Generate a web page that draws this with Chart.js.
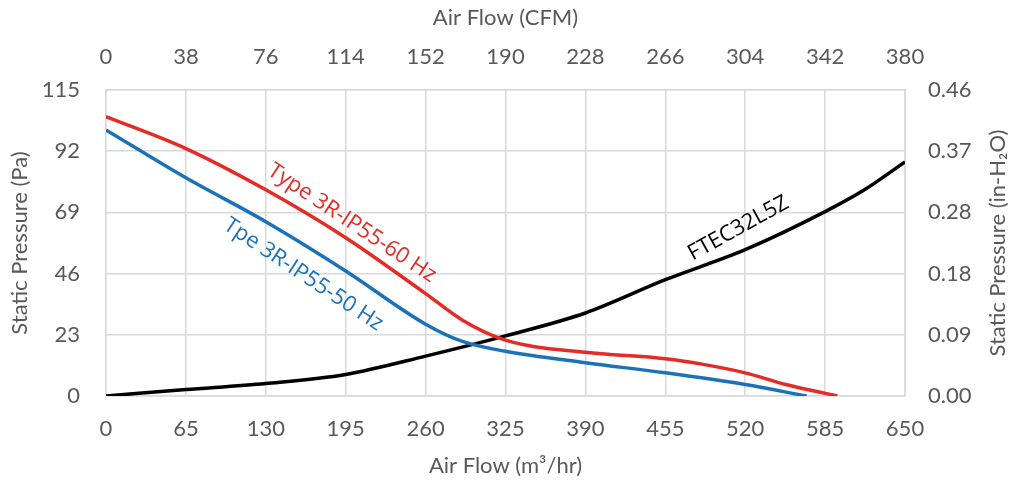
<!DOCTYPE html>
<html>
<head>
<meta charset="utf-8">
<script src="https://cdn.jsdelivr.net/npm/chart.js@4"></script>
<style>
  html, body { margin: 0; padding: 0; background: #fff; }
  #wrap { width: 1017px; height: 483px; }
</style>
</head>
<body>
<div id="wrap"><canvas id="grafica"></canvas></div>
<script>
// caudal en m3/hr y presion en Pa
const flujo60 = [0, 65, 130, 195, 260, 290, 325, 390, 455, 487, 520, 553, 595];
const presion60 = [105, 93, 77.5, 59.5, 38.5, 28.5, 21, 16.4, 14, 11.8, 8.7, 4.3, 0];

const flujo50 = [0, 65, 130, 195, 260, 290, 325, 390, 455, 520, 570];
const presion50 = [100, 82, 65.5, 47, 27, 20.5, 16.8, 12.5, 8.7, 4.3, 0];

const flujoSistema = [0, 65, 130, 195, 260, 325, 390, 455, 520, 585, 617, 650];
const presionSistema = [0, 2.4, 4.7, 8.1, 15, 22.6, 31.2, 43.7, 55, 69.3, 77.5, 88];

// etiquetas de los ejes
const ticksM3 = [0, 65, 130, 195, 260, 325, 390, 455, 520, 585, 650];
const ticksCFM = [0, 38, 76, 114, 152, 190, 228, 266, 304, 342, 380];
const ticksPa = [0, 23, 46, 69, 92, 115];
const ticksInH2O = [0, 0.092, 0.184, 0.276, 0.368, 0.46];

const nombres = ['Type 3R-IP55-60 Hz', 'Tpe 3R-IP55-50 Hz', 'FTEC32L5Z'];
const tituloDerecho = 'Static Pressure (in-H₂O)';

const gris = '#595959';
const rejilla = '#d9d9d9';
const fuente = 'Lato, "Open Sans", sans-serif';

const puntos = (xs, ys) => xs.map((x, i) => ({ x: x, y: ys[i] }));

// etiquetas giradas sobre las curvas (en coordenadas de datos)
const etiquetasCurvas = {
  id: 'etiquetasCurvas',
  afterDatasetsDraw(chart) {
    const { ctx, scales } = chart;
    const lista = [
      { texto: nombres[0], x: 200, y: 65, ang: 33.5, color: '#e52b26' },
      { texto: nombres[1], x: 160.5, y: 45.6, ang: 33.5, color: '#1c72b8' },
      { texto: nombres[2], x: 514.5, y: 63, ang: -29, color: '#000000' }
    ];
    ctx.save();
    ctx.font = '22px "Open Sans", sans-serif';
    ctx.textAlign = 'center';
    ctx.textBaseline = 'middle';
    lista.forEach(e => {
      ctx.save();
      ctx.translate(scales.x.getPixelForValue(e.x), scales.y.getPixelForValue(e.y));
      ctx.rotate(e.ang * Math.PI / 180);
      ctx.fillStyle = e.color;
      ctx.fillText(e.texto, 0, 0);
      ctx.restore();
    });

    // titulo del eje derecho, leido de abajo hacia arriba
    const y2 = scales.y2;
    ctx.save();
    ctx.translate(998, (y2.top + y2.bottom) / 2);
    ctx.rotate(-Math.PI / 2);
    ctx.font = '22px ' + fuente;
    ctx.fillStyle = gris;
    ctx.fillText(tituloDerecho, 0, 0);
    ctx.restore();
    ctx.restore();
  }
};

const fijarTicks = valores => scale => {
  scale.ticks = valores.map(v => ({ value: v }));
};

const ctx = document.getElementById('grafica');

new Chart(ctx, {
  type: 'scatter',
  data: {
    datasets: [
      {
        label: nombres[0],
        data: puntos(flujo60, presion60),
        borderColor: '#e52b26',
        backgroundColor: '#e52b26',
        borderWidth: 3.5,
        showLine: true,
        pointRadius: 0,
        cubicInterpolationMode: 'monotone'
      },
      {
        label: nombres[1],
        data: puntos(flujo50, presion50),
        borderColor: '#1c72b8',
        backgroundColor: '#1c72b8',
        borderWidth: 3.5,
        showLine: true,
        pointRadius: 0,
        cubicInterpolationMode: 'monotone'
      },
      {
        label: nombres[2],
        data: puntos(flujoSistema, presionSistema),
        borderColor: '#000000',
        backgroundColor: '#000000',
        borderWidth: 3.5,
        showLine: true,
        pointRadius: 0,
        cubicInterpolationMode: 'monotone'
      }
    ]
  },
  options: {
    responsive: true,
    maintainAspectRatio: false,
    animation: false,
    layout: { padding: 0 },
    plugins: {
      legend: { display: false },
      tooltip: { enabled: false }
    },
    scales: {
      x: {
        type: 'linear',
        position: 'bottom',
        min: 0,
        max: 650,
        afterBuildTicks: fijarTicks(ticksM3),
        afterFit: s => { s.height = 87; },
        grid: { color: rejilla, lineWidth: 1.5, drawTicks: false },
        border: { color: rejilla, width: 1.5 },
        ticks: { color: gris, font: { family: fuente, size: 22 }, padding: 20, maxRotation: 0 },
        title: { display: true, text: 'Air Flow (m³/hr)', color: gris, font: { family: fuente, size: 22 }, padding: { top: 0, bottom: 4 } }
      },
      x2: {
        type: 'linear',
        position: 'top',
        min: 0,
        max: 380,
        afterBuildTicks: fijarTicks(ticksCFM),
        afterFit: s => { s.height = 90; },
        grid: { display: false, drawTicks: false },
        border: { color: rejilla, width: 1.5 },
        ticks: { color: gris, font: { family: fuente, size: 22 }, padding: 20, maxRotation: 0 },
        title: { display: true, text: 'Air Flow (CFM)', color: gris, font: { family: fuente, size: 22 }, padding: { top: 5, bottom: 0 } }
      },
      y: {
        type: 'linear',
        position: 'left',
        min: 0,
        max: 115,
        afterBuildTicks: fijarTicks(ticksPa),
        afterFit: s => { s.width = 106; },
        grid: { color: rejilla, lineWidth: 1.5, drawTicks: false },
        border: { color: rejilla, width: 1.5 },
        ticks: { color: gris, font: { family: fuente, size: 22 }, padding: 26 },
        title: { display: true, text: 'Static Pressure (Pa)', color: gris, font: { family: fuente, size: 22 }, padding: { top: 7, bottom: 0 } }
      },
      y2: {
        type: 'linear',
        position: 'right',
        min: 0,
        max: 0.46,
        afterBuildTicks: fijarTicks(ticksInH2O),
        afterFit: s => { s.width = 112; },
        grid: { display: false, drawTicks: false },
        border: { color: rejilla, width: 1.5 },
        ticks: {
          color: gris,
          font: { family: fuente, size: 22 },
          padding: 23,
          callback: v => v.toFixed(2)
        },
        title: { display: false }
      }
    }
  },
  plugins: [etiquetasCurvas]
});
</script>
</body>
</html>
